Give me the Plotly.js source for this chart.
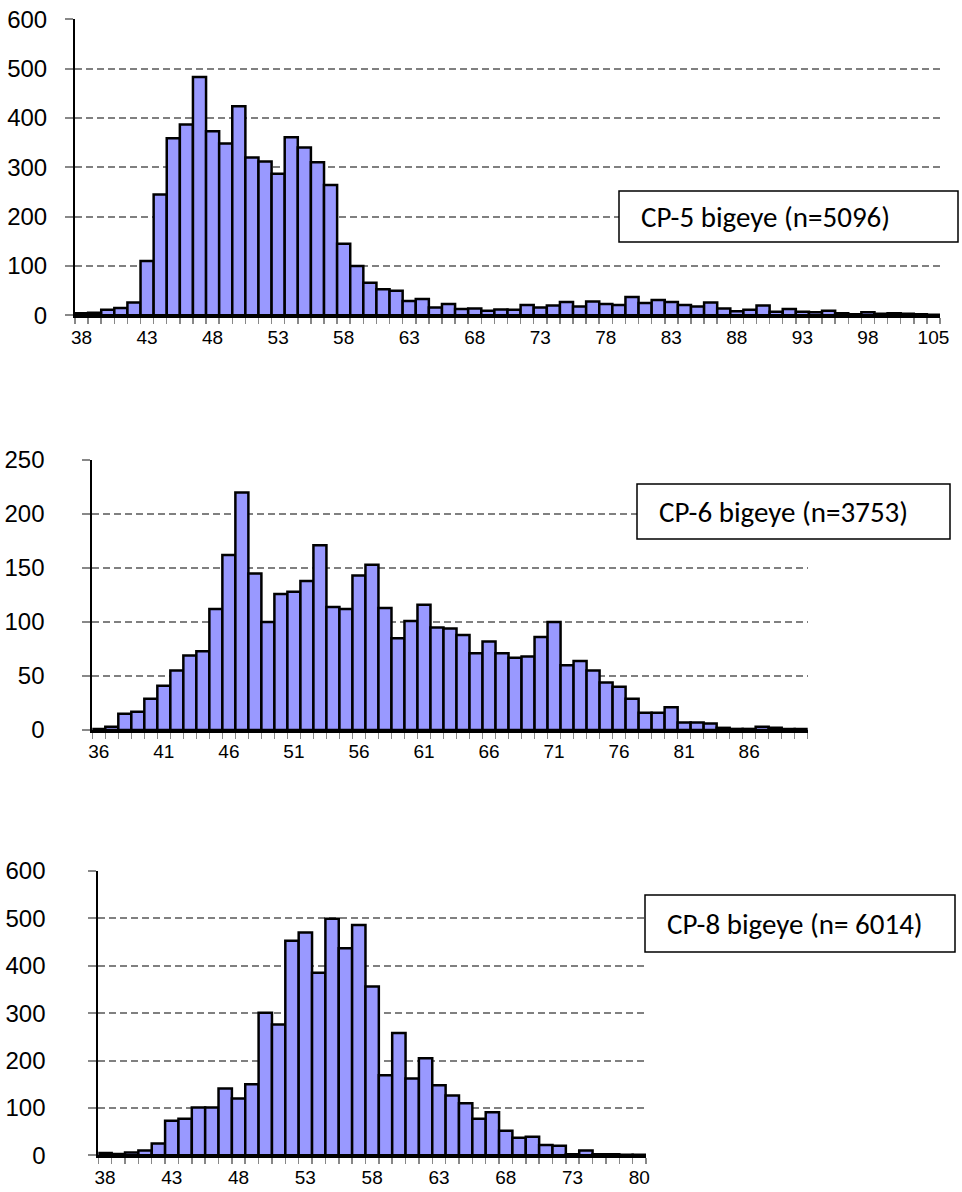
<!DOCTYPE html>
<html>
<head>
<meta charset="utf-8">
<script src="https://cdn.plot.ly/plotly-3.0.1.min.js"></script>
<style>
html,body{margin:0;padding:0;background:#fff;}
#chart{width:962px;height:1192px;}
</style>
</head>
<body>
<div id="chart"></div>
<script>
// ---------- data ----------
const cp5Lengths = ['38','39','40','41','42','43','44','45','46','47','48','49','50','51','52','53','54','55','56','57',
  '58','59','60','61','62','63','64','65','66','67','68','69','70','71','72','73','74','75','76','77',
  '78','79','80','81','82','83','84','85','86','87','88','89','90','91','92','93','94','95','96','97',
  '98','99','100','101','102','105'];
const cp5Counts = [4,5,11,15,26,110,245,359,387,483,373,348,424,320,312,287,361,340,310,264,
  145,100,66,53,50,29,33,16,23,13,14,9,12,11,21,16,20,27,18,28,
  23,21,37,25,31,27,21,18,26,14,8,11,20,7,13,7,6,9,4,2,
  6,3,4,3,2,1];

const cp6Lengths = ['36','37','38','39','40','41','42','43','44','45','46','47','48','49','50','51','52','53','54','55',
  '56','57','58','59','60','61','62','63','64','65','66','67','68','69','70','71','72','73','74','75',
  '76','77','78','79','80','81','82','83','84','85','86','87','88','89','90'];
const cp6Counts = [1,3,15,17,29,41,55,69,73,112,162,220,145,100,126,128,138,171,114,112,
  143,153,113,85,101,116,95,94,88,71,82,71,67,68,86,100,60,64,55,44,
  40,29,16,16,21,7,7,6,2,1,1,3,2,1,1];

const cp8Lengths = ['38','39','40','41','42','43','44','45','46','47','48','49','50','51','52','53','54','55','56','57',
  '58','59','60','61','62','63','64','65','66','67','68','69','70','71','72','73','74','75','76','77','80'];
const cp8Counts = [5,3,6,10,25,73,77,101,101,141,120,150,301,276,453,470,385,499,437,486,
  356,169,258,162,205,148,126,110,77,91,52,37,39,22,20,2,10,2,2,1,1];

const labels = ['CP-5 bigeye (n=5096)', 'CP-6 bigeye (n=3753)', 'CP-8 bigeye (n= 6014)'];
const yMax = [600, 250, 600];
const yStep = [100, 50, 100];

// ---------- layout helpers (pixel -> paper) ----------
const W = 962, H = 1192;
const px = v => v / W;
const py = v => 1 - v / H;

const panels = [
  {cats: cp5Lengths, vals: cp5Counts, x0: 75,   x1: 940,   yTop: 19.3,  yBot: 315.3,  standoff: 13, box: [619, 191, 958, 242]},
  {cats: cp6Lengths, vals: cp6Counts, x0: 92.3, x1: 807.7, yTop: 460,   yBot: 730,    standoff: 33, box: [637, 484, 950, 539]},
  {cats: cp8Lengths, vals: cp8Counts, x0: 98.3, x1: 646,   yTop: 871,   yBot: 1155.3, standoff: 38, box: [645, 895, 955, 952]}
];

const data = [];
const layout = {
  width: W, height: H,
  margin: {l: 0, r: 0, t: 0, b: 0},
  paper_bgcolor: '#ffffff',
  plot_bgcolor: 'rgba(0,0,0,0)',
  showlegend: false,
  bargap: 0,
  shapes: [],
  annotations: []
};

panels.forEach((p, i) => {
  const n = i === 0 ? '' : String(i + 1);
  data.push({
    type: 'bar',
    x: p.cats,
    y: p.vals,
    xaxis: 'x' + n,
    yaxis: 'y' + n,
    marker: {color: '#9999FF', line: {color: '#000000', width: 2.5}},
    hoverinfo: 'x+y'
  });
  layout['xaxis' + n] = {
    type: 'category',
    domain: [px(p.x0), px(p.x1)],
    anchor: 'y' + n,
    tickson: 'boundaries',
    tickmode: 'array',
    tickvals: p.cats,
    ticktext: p.cats.map((c, k) => (k % 5 === 0 ? c : '')),
    ticks: 'outside',
    ticklen: 6,
    tickwidth: 1.5,
    tickcolor: '#888888',
    ticklabelstandoff: 3,
    showline: true,
    linecolor: '#000000',
    linewidth: 2.5,
    showgrid: false,
    zeroline: false,
    tickangle: 0,
    tickfont: {family: '"Liberation Sans Narrow", "Arial Narrow", "Liberation Sans", sans-serif', size: 19, color: '#000'},
    fixedrange: true
  };
  layout['yaxis' + n] = {
    domain: [py(p.yBot), py(p.yTop)],
    anchor: 'x' + n,
    range: [0, yMax[i]],
    dtick: yStep[i],
    tick0: 0,
    ticks: 'outside',
    ticklen: 8,
    tickwidth: 2,
    tickcolor: '#888888',
    ticklabelstandoff: p.standoff,
    showline: true,
    linecolor: '#000000',
    linewidth: 2,
    showgrid: true,
    gridcolor: '#808080',
    gridwidth: 2,
    griddash: '7px,4px',
    zeroline: false,
    tickfont: {family: '"Liberation Sans", Arial, sans-serif', size: 24, color: '#000'},
    fixedrange: true
  };
  const b = p.box;
  layout.shapes.push({
    type: 'rect', xref: 'paper', yref: 'paper',
    x0: px(b[0]), x1: px(b[2]), y0: py(b[3]), y1: py(b[1]),
    line: {color: '#000000', width: 1.5},
    fillcolor: '#ffffff',
    layer: 'above'
  });
  layout.annotations.push({
    xref: 'paper', yref: 'paper',
    x: px(b[0] + 20), y: py((b[1] + b[3]) / 2),
    xanchor: 'left', yanchor: 'middle',
    text: labels[i],
    showarrow: false,
    font: {family: 'Carlito, Calibri, Lato, sans-serif', size: 29, color: '#000'}
  });
});

Plotly.newPlot('chart', data, layout, {displayModeBar: false, staticPlot: true});
</script>
</body>
</html>
